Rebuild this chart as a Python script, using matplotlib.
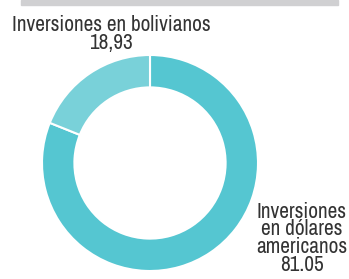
import matplotlib.pyplot as plt

labels = ['Inversiones en dólares\namericanos', 'Inversiones en bolivianos']
values = [81.05, 18.93]
value_labels = ['81.05', '18,93']
colors = ['#55c6d1', '#79d1d9']

plt.rcParams['font.family'] = ['Archivo Narrow', 'Roboto Condensed', 'DejaVu Sans']

W, H = 349, 279
fig = plt.figure(figsize=(W / 100, H / 100), dpi=100)

# gray band at the top
fig.patches.append(plt.Rectangle((21 / W, 1 - 5 / H), 317 / W, 5 / H,
                                 transform=fig.transFigure, color='#d0d0d2'))

# donut axes: center (150,163), radius 108 px
cx, cy, r = 150, 163, 108
ax = fig.add_axes([(cx - r) / W, 1 - (cy + r) / H, 2 * r / W, 2 * r / H])
ax.pie(values, colors=colors, startangle=90, counterclock=False,
       wedgeprops=dict(width=0.3, edgecolor='white', linewidth=1.5))
ax.set_xlim(-1, 1)
ax.set_ylim(-1, 1)
ax.set_aspect('auto')

fs = 15.3
fig.text(111 / W, 1 - 49 / H, 'Inversiones en bolivianos\n' + value_labels[1],
         ha='center', va='baseline', fontsize=fs, color='#333333',
         linespacing=0.86)
fig.text(302 / W, 1 - 271 / H, 'Inversiones\nen dólares\namericanos\n' + value_labels[0],
         ha='center', va='baseline', fontsize=fs, color='#333333',
         linespacing=0.86)

fig.savefig('out.png', dpi=100)
